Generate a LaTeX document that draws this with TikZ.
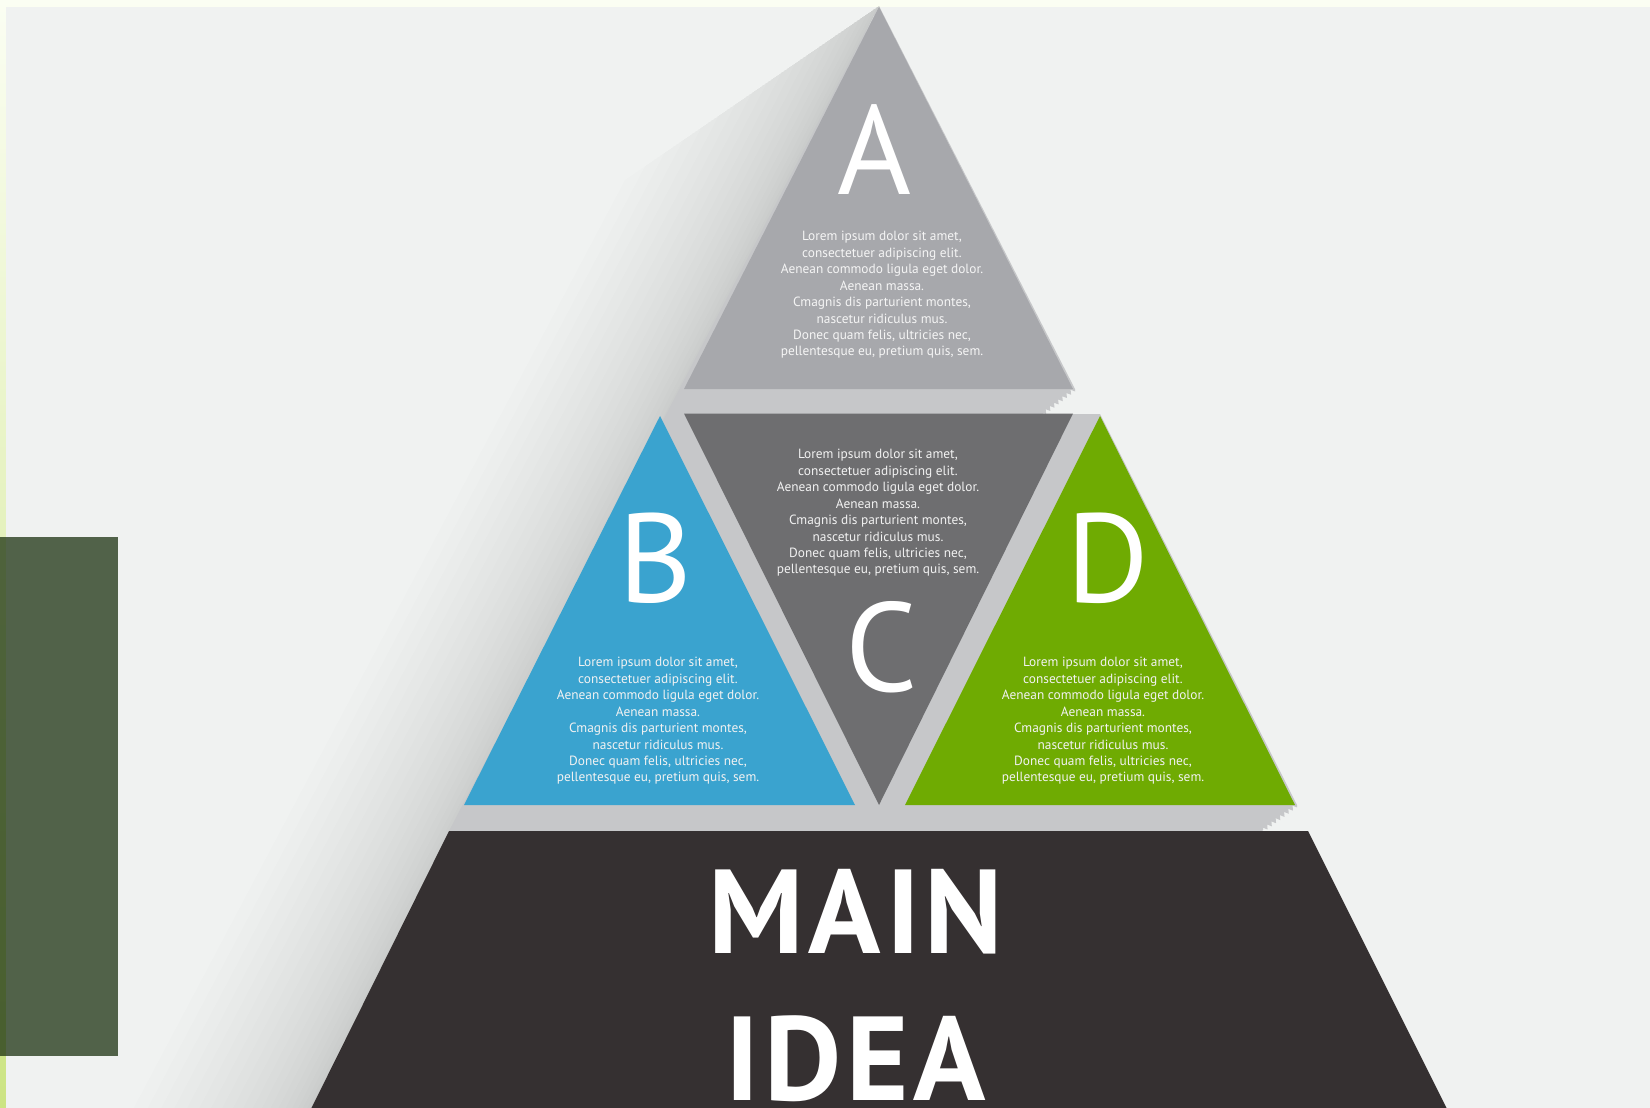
\documentclass[tikz,border=0pt]{standalone}
\usepackage{fontspec}
\setmainfont{PT Sans}
\usetikzlibrary{calc,decorations.pathmorphing}
\definecolor{bgc}{HTML}{F0F2F1}
\definecolor{stript}{HTML}{FBFEF3}
\definecolor{stripb}{HTML}{CCE483}
\definecolor{boxc}{HTML}{1D3311}
\definecolor{bandc}{HTML}{C6C7C9}
\definecolor{acol}{HTML}{A7A8AC}
\definecolor{bcol}{HTML}{3AA3CF}
\definecolor{ccol}{HTML}{6E6E70}
\definecolor{dcol}{HTML}{6FAB02}
\definecolor{basec}{HTML}{353031}
\newcommand{\loremtxt}{Lorem ipsum dolor sit amet,\\consectetuer adipiscing elit.\\Aenean commodo ligula eget dolor.\\Aenean massa.\\Cmagnis dis parturient montes,\\nascetur ridiculus mus.\\Donec quam felis, ultricies nec,\\pellentesque eu, pretium quis, sem.}

\begin{document}
\begin{tikzpicture}[x=0.02cm,y=-0.02cm,
  blurb/.style={align=center,text=white!95!black,font=\fontsize{7.6}{9.36}\selectfont},
  letter/.style={text=white,font=\fontsize{72}{72}\selectfont},
  title/.style={anchor=base,inner sep=0pt,text=white,font=\fontsize{68}{68}\bfseries\addfontfeature{LetterSpace=4}},
  jag/.style={decorate,decoration={zigzag,segment length=3pt,amplitude=1.2pt}}]
\useasboundingbox (0,0) rectangle (1650,1107);
\fill[top color=stript,bottom color=stripb] (0,0) rectangle (1650,1107);
\fill[bgc] (6,7) rectangle (1660,1115);
\fill[boxc,opacity=0.75] (0,537) rectangle (118,1056);
\coordinate (ap) at (879,6);
\coordinate (st) at (625,180);
\coordinate (sb) at (130,1115);
\coordinate (pb) at (308,1115);
\foreach \k in {1,...,20}{
  \pgfmathsetmacro{\t}{(\k/20)^1.6}
  \fill[black,opacity=0.008] (ap) -- ($(ap)!\t!(st)$) -- ($(pb)!\t!(sb)$) -- (pb) -- cycle;
}
\fill[bandc] (ap) -- (1075,389) decorate[jag]{-- (1043,414)} -- (1100,414) -- (1297,805)
  decorate[jag]{-- (1262,831)} -- (449,831) -- cycle;
\fill[acol] (879,7) -- (1073,389) -- (684,389) -- cycle;
\fill[ccol] (684,413.5) -- (1073,413.5) -- (879,805) -- cycle;
\fill[bcol] (660,416) -- (855,805) -- (464,805) -- cycle;
\fill[dcol] (1100,416) -- (1295,805) -- (905,805) -- cycle;
\fill[basec] (449,831) -- (1308,831) -- (1450,1115) -- (308,1115) -- cycle;
\node[letter] (la) at (874,150) {A};
\node[letter] (lb) at (655,558) {B};
\node[letter] (lc) at (882,647) {C};
\node[letter] (ld) at (1108,558) {D};
\node[blurb,text=white!88!acol] (ta) at (882,295) {\loremtxt};
\node[blurb] (tc) at (878,513) {\loremtxt};
\node[blurb] (tb) at (658,721) {\loremtxt};
\node[blurb] (td) at (1103,721) {\loremtxt};
\node[title] (main) at (856,953) {MAIN};
\node[title] (idea) at (856,1100) {IDEA};
\end{tikzpicture}
\end{document}
